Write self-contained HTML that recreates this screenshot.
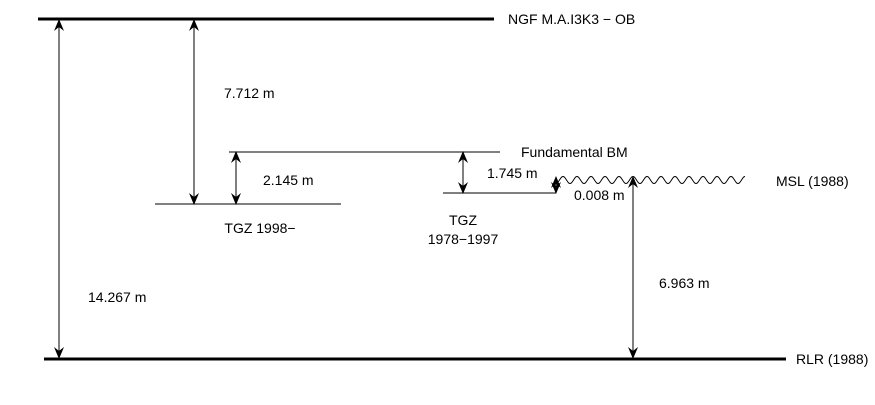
<!DOCTYPE html>
<html><head><meta charset="utf-8"><style>
html,body{margin:0;padding:0;background:#fff;}
svg text{font-family:"Liberation Sans",sans-serif;font-size:14px;fill:#000;}
</style></head><body>
<svg id="chart" width="875" height="400" viewBox="0 0 875 400">
<defs>
<marker id="ah" viewBox="0 0 12 10" refX="11" refY="5" markerWidth="12" markerHeight="10" orient="auto-start-reverse" markerUnits="userSpaceOnUse">
<path d="M0,0 L12,5 L0,10 L4,5 Z" fill="#000"/>
</marker>
</defs>
<g id="lines"></g>
<g id="arrows"></g>
<g id="labels"></g>
</svg>
<script>
const levelNames = ["NGF", "BM", "MSL", "TGZ7897", "TGZ98", "RLR"];
const levelY = [19, 152, 180, 193, 204, 359];
const arrowLabels = ["14.267 m", "7.712 m", "2.145 m", "1.745 m", "0.008 m", "6.963 m"];
const NS = "http://www.w3.org/2000/svg";
function y(name){ return levelY[levelNames.indexOf(name)]; }
function mk(tag, attrs, parent){ const e=document.createElementNS(NS,tag); for(const k in attrs) e.setAttribute(k,attrs[k]); document.getElementById(parent).appendChild(e); return e; }
const hl = [["NGF",38,494,3,"ngf-line"],["BM",229,500,1,"fundamental-bm-line"],["TGZ7897",443,556,1,"tgz-1978-line"],["TGZ98",155,341,1,"tgz-1998-line"],["RLR",44,786,3,"rlr-line"]];
hl.forEach(h=>{ const e=mk("line",{x1:h[1],x2:h[2],y1:y(h[0]),y2:y(h[0]),stroke:"#000","stroke-width":h[3]},"lines");

 });
let d=""; const yc=y("MSL"); const x0=556, x1=745, per=14;
for(let x=x0;x<=x1;x+=0.5){ const yy=yc+3.5*Math.cos((x-x0)/per*2*Math.PI); d+=(x===x0?"M":"L")+x+","+yy.toFixed(2); }
const w=mk("path",{d:d,fill:"none",stroke:"#000","stroke-width":1},"lines");


const ar = [[59,"NGF","RLR",0,88,302,"arrow-14267"],[194,"NGF","TGZ98",1,224,98,"arrow-7712"],[236,"BM","TGZ98",2,263,185,"arrow-2145"],[463,"BM","TGZ7897",3,487,178,"arrow-1745"],[556,"MSL","TGZ7897",4,574,200,"arrow-0008"],[633,"MSL","RLR",5,659,288,"arrow-6963"]];
ar.forEach(a=>{ const e=mk("line",{x1:a[0],x2:a[0],y1:y(a[1])+(a[1]==="NGF"?1:(a[1]==="MSL"?-3:0)),y2:y(a[2])-(a[2]==="RLR"?1:0),stroke:"#000","stroke-width":1,"marker-start":"url(#ah)","marker-end":"url(#ah)"},"arrows");


const t=mk("text",{x:a[4],y:a[5]},"labels"); t.textContent=arrowLabels[a[3]];

 });
const ll=[["NGF M.A.I3K3 − OB",508,24,"start"],["Fundamental BM",521,157,"start"],["MSL (1988)",776,186,"start"],["TGZ 1998−",260,233,"middle"],["TGZ",463,225,"middle"],["1978−1997",463,244,"middle"],["RLR (1988)",796,364,"start"]];
ll.forEach(l=>{ const t=mk("text",{x:l[1],y:l[2],"text-anchor":l[3]},"labels"); t.textContent=l[0];

 });
</script>
</body></html>
